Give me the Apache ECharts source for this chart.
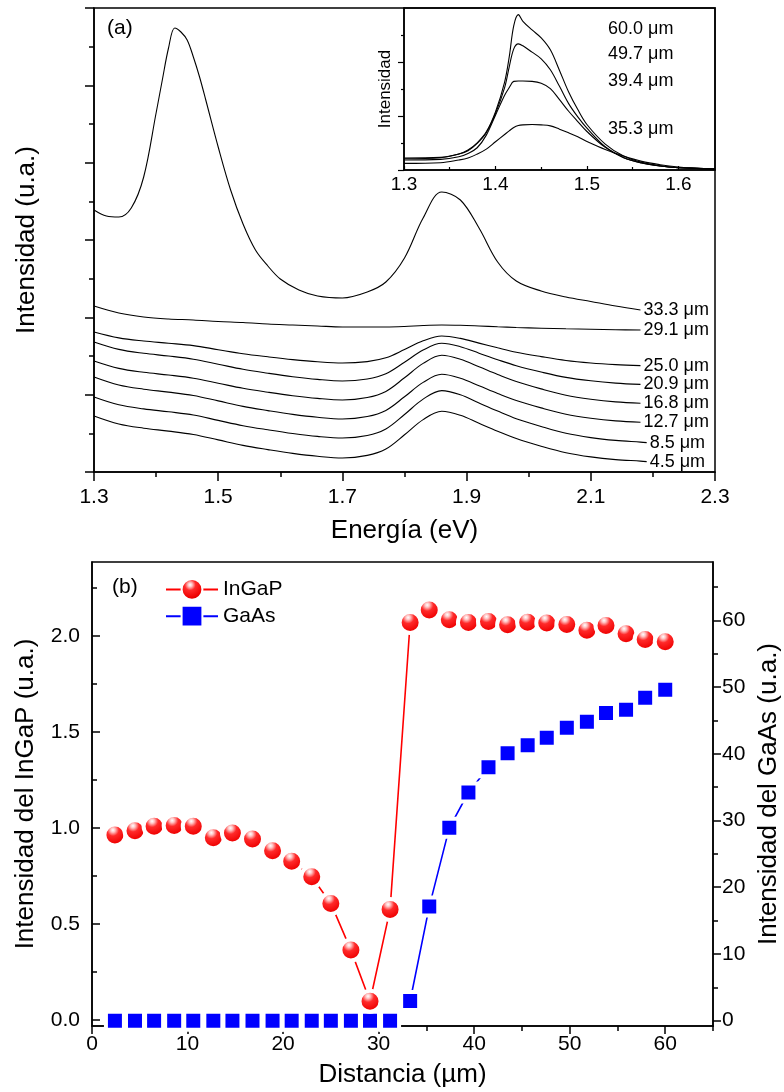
<!DOCTYPE html>
<html>
<head>
<meta charset="utf-8">
<script src="https://cdn.jsdelivr.net/npm/echarts@6/dist/echarts.min.js"></script>
<style>
  html, body { margin: 0; padding: 0; background: #fff; }
  #chart { width: 784px; height: 1092px; }
</style>
</head>
<body>
<div id="chart"></div>
<script>
// ---------- Panel (a): PL spectra at several distances (intensity in a.u.) ----------
const energyLow = [1.30, 1.34, 1.38, 1.42, 1.46, 1.50, 1.54, 1.58, 1.62, 1.66, 1.70, 1.74, 1.77,
                   1.80, 1.83, 1.86, 1.89, 1.92, 1.95, 1.98, 2.02, 2.06, 2.10, 2.14, 2.18, 2.19];
const energy333 = [1.30, 1.32, 1.34, 1.36, 1.38, 1.40, 1.41, 1.42, 1.43, 1.44, 1.45, 1.46, 1.47,
                   1.48, 1.50, 1.52, 1.54, 1.56, 1.58, 1.60, 1.63, 1.66, 1.70, 1.74, 1.77, 1.80,
                   1.83, 1.86, 1.89, 1.92, 1.95, 1.98, 2.02, 2.06, 2.10, 2.14, 2.18];

const spec333 = [262, 256, 255, 264, 295, 359, 392, 424, 444, 440, 432, 415, 395, 372, 325, 282, 248,
                 222, 206, 193, 182, 176, 174, 180, 190, 214, 254, 280, 272, 244, 210, 191, 181, 175,
                 170.5, 166, 162];
const spec291 = [166, 159, 155, 153, 152, 150.5, 149.5, 148, 147, 146, 145, 145, 145, 145.5, 146.5,
                 147, 146.7, 146, 145.2, 144.5, 143.8, 143.2, 142.7, 142.3, 142];
const spec250 = [140, 134.1, 131.0, 128.8, 126.4, 122.3, 118.3, 115.2, 112.4, 110.2, 109, 110.4, 114.2,
                 122.4, 131.2, 136, 133.6, 128.9, 124.2, 119.8, 115.4, 111.5, 109, 107.4, 106.4];
const spec209 = [130, 122.6, 118.7, 116.0, 112.8, 107.8, 102.7, 98.8, 95.3, 92.6, 91, 93.0, 98.2,
                 109.7, 121.9, 128.7, 125.3, 118.8, 112.3, 106.3, 100.0, 94.6, 91.2, 88.9, 87.6];
const spec168 = [111, 103.6, 99.7, 97.0, 93.8, 88.8, 83.7, 79.8, 76.3, 73.6, 72, 74.5, 80.6,
                 94.2, 108.6, 116.7, 112.7, 105.2, 97.5, 90.4, 83.1, 76.8, 72.8, 70.1, 68.7];
const spec127 = [95, 87.0, 82.8, 79.9, 76.5, 71.1, 65.6, 61.4, 57.6, 54.7, 53, 55.5, 61.6,
                 75.2, 89.6, 97.7, 93.7, 86.2, 78.5, 71.4, 64.1, 57.8, 53.8, 51.1, 49.7];
const spec85  = [75, 67.2, 63.1, 60.2, 57.0, 51.6, 46.3, 42.2, 38.5, 35.6, 34, 36.5, 43.1,
                 57.5, 72.9, 81.4, 77.2, 69.0, 60.9, 53.3, 45.5, 38.7, 34.4, 31.6, 29.9, 29.4];
const spec45  = [56, 48.0, 43.8, 40.9, 37.5, 32.1, 26.6, 22.4, 18.6, 15.7, 14, 16.6, 23.0,
                 37.2, 52.4, 60.7, 56.7, 48.7, 40.8, 33.4, 25.8, 19.3, 15.1, 12.4, 10.9, 10.4];

const mainLabels = ['33.3 μm', '29.1 μm', '25.0 μm', '20.9 μm', '16.8 μm', '12.7 μm', '8.5 μm', '4.5 μm'];
const mainX = [energy333, energyLow, energyLow, energyLow, energyLow, energyLow, energyLow, energyLow];
const mainY = [spec333, spec291, spec250, spec209, spec168, spec127, spec85, spec45];

const topXTicks = [1.3, 1.5, 1.7, 1.9, 2.1, 2.3];
const topXMinor = [1.4, 1.6, 1.8, 2.0, 2.2];
const topYTicks = [0, 77.33, 154.67, 232, 309.33, 386.67, 464];
const topYMinor = [38.67, 116, 193.33, 270.67, 348, 425.33];

// ---------- Inset: GaAs emission at larger distances ----------
const insetE = [1.30, 1.34, 1.36, 1.37, 1.38, 1.39, 1.40, 1.41, 1.415, 1.42, 1.425, 1.43, 1.44,
                1.45, 1.46, 1.47, 1.48, 1.49, 1.50, 1.52, 1.54, 1.56, 1.58, 1.60, 1.62, 1.64];
const ins600 = [36, 38, 48, 60, 82, 115, 175, 265, 340, 435, 468, 448, 422, 398, 362, 300, 235, 182,
                137, 78, 42, 23, 13, 7, 5, 3];
const ins497 = [34, 37, 48, 58, 80, 112, 170, 248, 310, 365, 380, 374, 355, 335, 302, 252, 200, 160,
                126, 70, 38, 21, 12, 7, 5, 3];
const ins394 = [30, 32, 40, 50, 67, 105, 165, 225, 248, 267, 268, 268, 267, 261, 245, 212, 177, 146,
                116, 68, 37, 21, 12, 7, 5, 3];
const ins353 = [20, 22, 30, 36, 48, 63, 85, 107, 118, 128, 134, 136, 137, 136, 133, 123, 112, 100,
                86, 62, 42, 26, 16, 9, 5, 3];
const insetLabels = ['60.0 μm', '49.7 μm', '39.4 μm', '35.3 μm'];
const insetY = [ins600, ins497, ins394, ins353];
const insetXTicks = [1.3, 1.4, 1.5, 1.6];
const insetXMinor = [1.35, 1.45, 1.55];
const insetYTicks = [0, 162, 324];
const insetYMinor = [81, 243, 405];

// ---------- Panel (b): integrated intensity vs distance ----------
const distance = [2.4, 4.5, 6.5, 8.6, 10.6, 12.7, 14.7, 16.8, 18.9, 20.9, 23.0, 25.0, 27.1, 29.1, 31.2,
                  33.3, 35.3, 37.4, 39.4, 41.5, 43.5, 45.6, 47.6, 49.7, 51.8, 53.8, 55.9, 57.9, 60.0];
const ingap = [0.964, 0.986, 1.010, 1.014, 1.010, 0.950, 0.974, 0.943, 0.882, 0.828, 0.747, 0.608,
               0.365, 0.099, 0.577, 2.07, 2.135, 2.085, 2.07, 2.075, 2.058, 2.072, 2.068, 2.06,
               2.03, 2.055, 2.012, 1.982, 1.97];
const gaas = [0, 0, 0, 0, 0, 0, 0, 0, 0, 0, 0, 0, 0, 0, 0,
              2.95, 17.1, 28.9, 34.2, 38.0, 40.1, 41.3, 42.4, 43.9, 44.8, 46.1, 46.6, 48.4, 49.6];
const botXTicks = [0, 10, 20, 30, 40, 50, 60];
const botXMinor = [5, 15, 25, 35, 45, 55, 65];
const leftTicks = [0, 0.5, 1.0, 1.5, 2.0];
const leftMinor = [0.25, 0.75, 1.25, 1.75, 2.25];
const rightTicks = [0, 10, 20, 30, 40, 50, 60];
const rightMinor = [5, 15, 25, 35, 45, 55, 65];

// ---------- styling helpers ----------
const FONT = '"Liberation Sans", Arial, Helvetica, sans-serif';
const AXIS_LINE = { show: true, onZero: false, lineStyle: { color: '#000', width: 1.5 } };
const NAME_STYLE = { fontSize: 26, fontFamily: FONT, color: '#000' };

function majorAxis(gridIndex, min, max, ticks, opts) {
  return Object.assign({
    type: 'value', gridIndex, min, max,
    axisLine: AXIS_LINE,
    splitLine: { show: false },
    axisTick: { show: true, customValues: ticks, length: 9, inside: false,
                lineStyle: { color: '#000', width: 1.5 } },
    axisLabel: { show: true, customValues: ticks, fontSize: 21, fontFamily: FONT, color: '#000' }
  }, opts || {});
}
function minorAxis(gridIndex, min, max, ticks, opts) {
  return Object.assign({
    type: 'value', gridIndex, min, max,
    axisLine: { show: false, onZero: false },
    splitLine: { show: false },
    axisTick: { show: true, customValues: ticks, length: 5, inside: false,
                lineStyle: { color: '#000', width: 1.5 } },
    axisLabel: { show: false }
  }, opts || {});
}

const xAxis = [
  majorAxis(0, 1.3, 2.3, topXTicks, {
    position: 'bottom',
    name: 'Energía (eV)', nameLocation: 'middle', nameGap: 46, nameTextStyle: NAME_STYLE,
    axisLabel: { customValues: topXTicks, fontSize: 21, fontFamily: FONT, color: '#000', margin: 15,
                 formatter: v => v.toFixed(1) }
  }),
  minorAxis(0, 1.3, 2.3, topXMinor, { position: 'bottom' }),
  majorAxis(1, 1.3, 1.64, insetXTicks, {
    position: 'bottom',
    axisTick: { customValues: insetXTicks, length: 4, inside: true, lineStyle: { color: '#000', width: 1.2 } },
    axisLabel: { customValues: insetXTicks, fontSize: 19, fontFamily: FONT, color: '#000', margin: 5,
                 formatter: v => v.toFixed(1) }
  }),
  minorAxis(1, 1.3, 1.64, insetXMinor, {
    position: 'bottom',
    axisTick: { customValues: insetXMinor, length: 3, inside: true, lineStyle: { color: '#000', width: 1.2 } }
  }),
  majorAxis(2, 0, 65, botXTicks, {
    position: 'bottom',
    name: 'Distancia (µm)', nameLocation: 'middle', nameGap: 36, nameTextStyle: NAME_STYLE,
    axisTick: { customValues: botXTicks, length: 8, lineStyle: { color: '#000', width: 1.5 } },
    axisLabel: { customValues: botXTicks, fontSize: 21, fontFamily: FONT, color: '#000', margin: 8 }
  }),
  minorAxis(2, 0, 65, botXMinor, { position: 'bottom' })
];

const yAxis = [
  majorAxis(0, 0, 464, topYTicks, {
    position: 'left',
    name: 'Intensidad (u.a.)', nameLocation: 'middle', nameGap: 54, nameRotate: 90, nameTextStyle: NAME_STYLE,
    axisLabel: { show: false }
  }),
  minorAxis(0, 0, 464, topYMinor, { position: 'left' }),
  majorAxis(1, 0, 488, insetYTicks, {
    position: 'left',
    name: 'Intensidad', nameLocation: 'middle', nameGap: 10, nameRotate: 90,
    nameTextStyle: { fontSize: 17, fontFamily: FONT, color: '#000' },
    axisTick: { customValues: insetYTicks, length: 6, lineStyle: { color: '#000', width: 1.2 } },
    axisLabel: { show: false }
  }),
  minorAxis(1, 0, 488, insetYMinor, {
    position: 'left',
    axisTick: { customValues: insetYMinor, length: 3, lineStyle: { color: '#000', width: 1.2 } }
  }),
  majorAxis(2, -0.03, 2.385, leftTicks, {
    position: 'left',
    name: 'Intensidad del InGaP (u.a.)', nameLocation: 'middle', nameGap: 53, nameRotate: 90,
    nameTextStyle: NAME_STYLE,
    axisTick: { customValues: leftTicks, length: 8, inside: true, lineStyle: { color: '#000', width: 1.5 } },
    axisLabel: { customValues: leftTicks, fontSize: 21, fontFamily: FONT, color: '#000', margin: 12,
                 formatter: v => v.toFixed(1) }
  }),
  minorAxis(2, -0.03, 2.385, leftMinor, {
    position: 'left',
    axisTick: { customValues: leftMinor, length: 5, inside: true, lineStyle: { color: '#000', width: 1.5 } }
  }),
  majorAxis(2, -0.8, 68.75, rightTicks, {
    position: 'right',
    name: 'Intensidad del GaAs (u.a.)', nameLocation: 'middle', nameGap: 43, nameRotate: 90,
    nameTextStyle: NAME_STYLE,
    axisTick: { customValues: rightTicks, length: 8, lineStyle: { color: '#000', width: 1.5 } },
    axisLabel: { customValues: rightTicks, fontSize: 21, fontFamily: FONT, color: '#000', margin: 9 }
  }),
  minorAxis(2, -0.8, 68.75, rightMinor, { position: 'right' })
];

const zip = (xs, ys) => ys.map((y, i) => [xs[i], y]);

const series = [];
mainY.forEach((ys, k) => {
  series.push({
    type: 'line', name: mainLabels[k], xAxisIndex: 0, yAxisIndex: 0,
    data: zip(mainX[k], ys), smooth: 0.35, symbol: 'none',
    lineStyle: { color: '#000', width: 1.1 },
    endLabel: { show: true, formatter: p => p.seriesName, distance: 3,
                fontSize: 18, fontFamily: FONT, color: '#000' },
    silent: true
  });
});
insetY.forEach((ys, k) => {
  series.push({
    type: 'line', name: insetLabels[k], xAxisIndex: 2, yAxisIndex: 2,
    data: zip(insetE, ys), smooth: 0.35, symbol: 'none',
    lineStyle: { color: '#000', width: 1.1 }, silent: true
  });
});

const sphere = {
  type: 'radial', x: 0.42, y: 0.3, r: 0.75,
  colorStops: [
    { offset: 0, color: '#ffffff' },
    { offset: 0.12, color: '#ffc4c4' },
    { offset: 0.32, color: '#ff2a2a' },
    { offset: 0.75, color: '#ee0000' },
    { offset: 1, color: '#b00000' }
  ]
};
series.push({
  type: 'line', name: 'InGaP', xAxisIndex: 4, yAxisIndex: 4,
  data: zip(distance, ingap), symbol: 'circle', symbolSize: 21,
  lineStyle: { color: '#ff0000', width: 1.6 },
  itemStyle: { color: sphere, borderColor: '#ffffff', borderWidth: 4 },
  z: 3
});
series.push({
  type: 'line', name: 'GaAs', xAxisIndex: 4, yAxisIndex: 6,
  data: zip(distance, gaas), symbol: 'rect', symbolSize: 18,
  lineStyle: { color: '#0000ff', width: 1.6 },
  itemStyle: { color: '#0000ff', borderColor: '#ffffff', borderWidth: 4 },
  z: 2
});

const textEl = (str, x, y, size) => ({
  type: 'text', x, y, z: 50,
  style: { text: str, fontSize: size, fontFamily: FONT, fill: '#000', verticalAlign: 'middle' }
});

const gridBase = { show: true, borderColor: '#000', borderWidth: 1.5, backgroundColor: 'transparent',
                   containLabel: false, outerBoundsMode: 'none' };

const option = {
  animation: false,
  backgroundColor: '#fff',
  grid: [
    Object.assign({ left: 94, top: 8, width: 621, height: 464 }, gridBase),
    Object.assign({ left: 404, top: 8, width: 311, height: 162 }, gridBase),
    Object.assign({ left: 92, top: 562, width: 621, height: 464 }, gridBase)
  ],
  xAxis, yAxis, series,
  legend: {
    data: ['InGaP', 'GaAs'], orient: 'vertical', left: 160, top: 573,
    itemWidth: 52, itemHeight: 26, itemGap: 4,
    textStyle: { fontSize: 21, fontFamily: FONT, color: '#000' }
  },
  graphic: [
    textEl('(a)', 107, 28, 21),
    textEl('(b)', 112, 587, 21),
    textEl(insetLabels[0], 608, 29, 18),
    textEl(insetLabels[1], 608, 54, 18),
    textEl(insetLabels[2], 608, 81, 18),
    textEl(insetLabels[3], 608, 129, 18)
  ]
};

const chart = echarts.init(document.getElementById('chart'), null, { renderer: 'canvas' });
chart.setOption(option);
</script>
</body>
</html>
